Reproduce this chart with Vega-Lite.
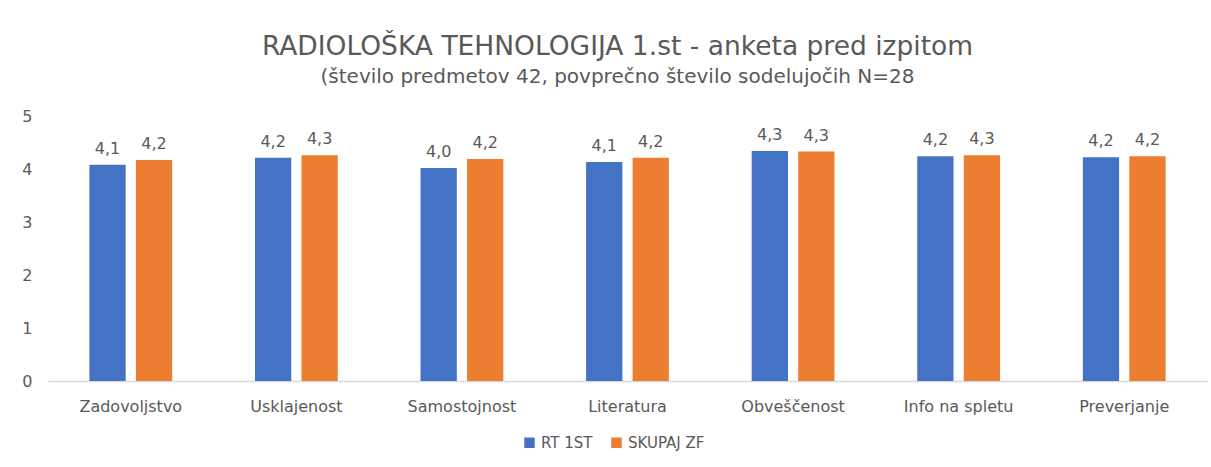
{
  "$schema": "https://vega.github.io/schema/vega-lite/v6.json",
  "autosize": "none",
  "width": 1159,
  "height": 265,
  "padding": {"left": 48, "top": 116, "right": 4, "bottom": 86},
  "background": "white",
  "config": {
    "font": "DejaVu Sans",
    "view": {"stroke": null},
    "locale": {"number": {"decimal": ",", "thousands": ".", "grouping": [3], "currency": ["", " €"]}}
  },
  "title": {
    "text": "RADIOLOŠKA TEHNOLOGIJA 1.st - anketa pred izpitom",
    "subtitle": "(število predmetov 42, povprečno število sodelujočih N=28",
    "anchor": "middle",
    "dx": -10,
    "offset": 21,
    "fontSize": 26.5,
    "fontWeight": "normal",
    "color": "#595959",
    "subtitleFontSize": 20,
    "subtitleColor": "#595959",
    "subtitlePadding": 7
  },
  "data": {
    "values": [
      {"kategorija": "Zadovoljstvo", "skupina": "RT 1ST", "vrednost": 4.08},
      {"kategorija": "Zadovoljstvo", "skupina": "SKUPAJ ZF", "vrednost": 4.17},
      {"kategorija": "Usklajenost", "skupina": "RT 1ST", "vrednost": 4.21},
      {"kategorija": "Usklajenost", "skupina": "SKUPAJ ZF", "vrednost": 4.26},
      {"kategorija": "Samostojnost", "skupina": "RT 1ST", "vrednost": 4.02},
      {"kategorija": "Samostojnost", "skupina": "SKUPAJ ZF", "vrednost": 4.19},
      {"kategorija": "Literatura", "skupina": "RT 1ST", "vrednost": 4.13},
      {"kategorija": "Literatura", "skupina": "SKUPAJ ZF", "vrednost": 4.21},
      {"kategorija": "Obveščenost", "skupina": "RT 1ST", "vrednost": 4.34},
      {"kategorija": "Obveščenost", "skupina": "SKUPAJ ZF", "vrednost": 4.33},
      {"kategorija": "Info na spletu", "skupina": "RT 1ST", "vrednost": 4.24},
      {"kategorija": "Info na spletu", "skupina": "SKUPAJ ZF", "vrednost": 4.26},
      {"kategorija": "Preverjanje", "skupina": "RT 1ST", "vrednost": 4.22},
      {"kategorija": "Preverjanje", "skupina": "SKUPAJ ZF", "vrednost": 4.24}
    ]
  },
  "encoding": {
    "x": {
      "field": "kategorija",
      "type": "nominal",
      "sort": null,
      "scale": {"paddingInner": 0.5, "paddingOuter": 0.25},
      "axis": {
        "title": null,
        "labelAngle": 0,
        "labelFontSize": 16,
        "labelColor": "#595959",
        "labelPadding": 17,
        "ticks": false,
        "domainColor": "#d9d9d9",
        "domainWidth": 1.5
      }
    },
    "xOffset": {"field": "skupina", "type": "nominal", "scale": {"paddingInner": 0.22}},
    "y": {
      "field": "vrednost",
      "type": "quantitative",
      "scale": {"domain": [0, 5]},
      "axis": {
        "title": null,
        "values": [0, 1, 2, 3, 4, 5],
        "grid": false,
        "domain": false,
        "ticks": false,
        "labelFontSize": 16,
        "labelColor": "#595959",
        "labelPadding": 16
      }
    },
    "color": {
      "field": "skupina",
      "type": "nominal",
      "scale": {"domain": ["RT 1ST", "SKUPAJ ZF"], "range": ["#4472C4", "#ED7D31"]},
      "legend": {
        "title": null,
        "orient": "none",
        "direction": "horizontal",
        "legendX": 474,
        "legendY": 319,
        "symbolType": "square",
        "symbolSize": 110,
        "symbolStrokeWidth": 0,
        "labelFontSize": 15,
        "labelColor": "#595959",
        "columnPadding": 16,
        "labelOffset": 4
      }
    }
  },
  "layer": [
    {"mark": {"type": "bar"}},
    {
      "mark": {"type": "text", "dy": -16, "fontSize": 16, "color": "#595959"},
      "encoding": {
        "text": {"field": "vrednost", "type": "quantitative", "format": ".1f"},
        "color": {"value": "#595959"}
      }
    }
  ]
}
